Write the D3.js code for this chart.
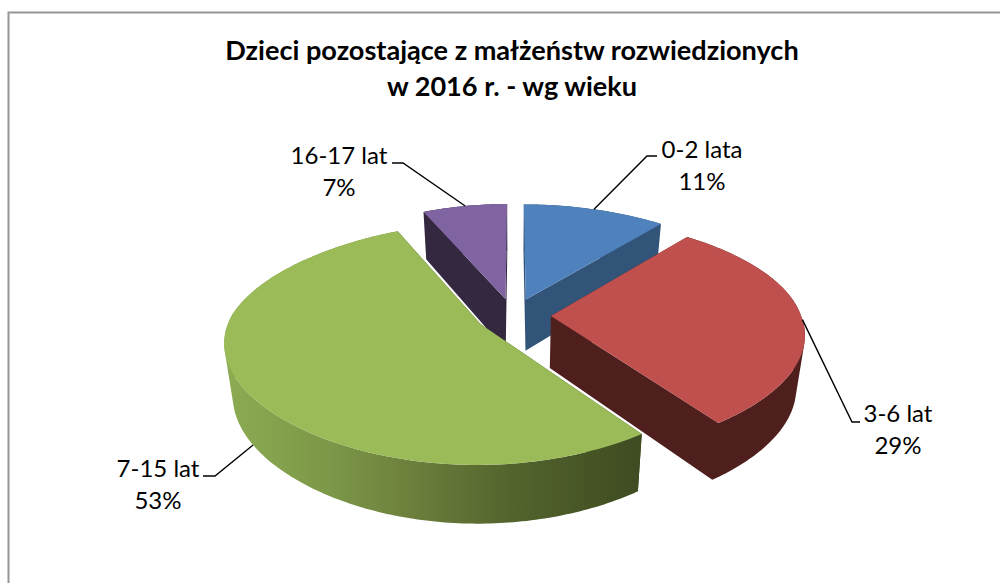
<!DOCTYPE html>
<html>
<head>
<meta charset="utf-8">
<script src="https://cdn.jsdelivr.net/npm/d3@7"></script>
<style>
  html, body { margin: 0; padding: 0; background: #fff; }
  svg { display: block; }
  text { font-family: Lato, "Open Sans", sans-serif; fill: #000; }
</style>
</head>
<body>
<div id="chart"></div>
<script>
const categories = ["0-2 lata", "3-6 lat", "7-15 lat", "16-17 lat"];
const shares = [11, 29, 53, 7];
const topColors = ["#4f81bd", "#c0504d", "#9bbb59", "#8064a2"];
const wallColors = ["#335479", "#4f1f1e", "#3f4b21", "#33283f"];
const titleLines = ["Dzieci pozostające z małżeństw rozwiedzionych", "w 2016 r. - wg wieku"];

const width = 1000;
const height = 583;

// perspective set-up of the tilted pie, fitted to the picture
const cam = { cx: 513.4, cy: 315.4, sx: 250, sy: 115, k: 0.16, pinch: 0.05, lean: 5.8, explode: 0.15, depth: 52, xShrink: 0.97, yGrow: 1.045 };

const svg = d3.select("#chart").append("svg")
    .attr("width", width)
    .attr("height", height);

// outer frame of the chart, it runs off the right and bottom of the picture
svg.append("rect")
    .attr("x", 8.5).attr("y", 12.5)
    .attr("width", 1010).attr("height", 600)
    .attr("fill", "#fff")
    .attr("stroke", "#969696")
    .attr("stroke-width", 2);

const arcs = d3.pie().sort(null).value((d) => d)(shares);

// point on the top face, angle clockwise from 12 o'clock, r = 0 is the slice apex
const topPoint = (arc, angle, r) => {
  const mid = (arc.startAngle + arc.endAngle) / 2;
  const X = cam.explode * Math.sin(mid) + r * Math.sin(angle);
  const Z = -cam.explode * Math.cos(mid) - r * Math.cos(angle);
  const w = 1 - cam.k * Z;
  return [
    cam.cx + cam.sx * X * (1 - cam.pinch * Z * Z) / w + cam.lean * Math.max(0, -Z) * Math.abs(X),
    cam.cy + cam.sy * Z / w,
  ];
};

// same point dropped to the underside of the pie
const bottomPoint = (p) => [
  cam.cx + (p[0] - cam.cx) * cam.xShrink,
  cam.cy + (p[1] - cam.cy) * cam.yGrow + cam.depth,
];

const rimAngles = (arc) => {
  const n = Math.ceil((arc.endAngle - arc.startAngle) * 60);
  return d3.range(n + 1).map((i) => arc.startAngle + (arc.endAngle - arc.startAngle) * i / n);
};

const line = d3.line();

// every shape wound the same way, so overlaps and the fold at the silhouette stay filled
const wound = (pts) => line(d3.polygonArea(pts) < 0 ? pts.slice().reverse() : pts) + "Z";

const rimWall = (rim, rimLow) => d3.range(rim.length - 1)
    .map((j) => wound([rim[j], rim[j + 1], rimLow[j + 1], rimLow[j]]))
    .join("");

const cutWall = (apex, p) => wound([apex, p, bottomPoint(p), bottomPoint(apex)]);

// green rim is shaded from left to right
const rimGradient = svg.append("defs").append("linearGradient")
    .attr("id", "green-rim")
    .attr("gradientUnits", "userSpaceOnUse")
    .attr("x1", 225).attr("x2", 640)
    .attr("y1", 0).attr("y2", 0);
[[0, "#8dab52"], [0.25, "#7c9848"], [0.45, "#6c7f3c"], [0.7, "#52632c"], [1, "#3f4b21"]].forEach((s) => {
  rimGradient.append("stop").attr("offset", s[0]).attr("stop-color", s[1]);
});

// back slices first, then the ones nearer to the viewer
const drawOrder = [3, 0, 1, 2];
const pie = svg.append("g").attr("class", "pie");

drawOrder.forEach((i) => {
  const arc = arcs[i];
  const g = pie.append("g").attr("class", "slice");
  const apex = topPoint(arc, 0, 0);
  const rim = rimAngles(arc).map((a) => topPoint(arc, a, 1));
  const rimLow = rim.map(bottomPoint);
  const walls = cutWall(apex, rim[0]) + cutWall(apex, rim[rim.length - 1]);

  if (i === 2) {
    // only the green slice has a gradient on its outer wall
    g.append("path").attr("d", walls).attr("fill", wallColors[i]);
    g.append("path").attr("d", rimWall(rim, rimLow)).attr("fill", "url(#green-rim)");
  } else {
    g.append("path").attr("d", walls + rimWall(rim, rimLow)).attr("fill", wallColors[i]);
  }

  // top face
  g.append("path")
      .attr("d", line([apex].concat(rim)) + "Z")
      .attr("fill", topColors[i]);
});

// title
svg.append("g").selectAll("text")
    .data(titleLines)
    .join("text")
    .attr("x", 512)
    .attr("y", (d, i) => 60 + i * 36)
    .attr("text-anchor", "middle")
    .attr("font-size", 27.1)
    .attr("font-weight", 700)
    .text((d) => d);

// data labels with their leader lines
const labelSpots = [
  { x: 702, y: 158, knee: [[647, 156], [657, 156]], from: (a) => topPoint(a, (a.startAngle + a.endAngle) / 2, 1) },
  { x: 898, y: 422, knee: [[852, 422], [860, 422]], from: (a) => topPoint(a, (a.startAngle + a.endAngle) / 2, 1) },
  { x: 158, y: 477, knee: [[215, 476], [203, 476]], from: (a) => bottomPoint(topPoint(a, (a.startAngle + a.endAngle) / 2, 1)) },
  { x: 339, y: 164, knee: [[403, 163], [392, 163]], from: (a) => topPoint(a, (a.startAngle + a.endAngle) / 2, 1) },
];

const labels = svg.append("g").attr("class", "labels");
labelSpots.forEach((spot, i) => {
  labels.append("path")
      .attr("d", line([spot.from(arcs[i])].concat(spot.knee)))
      .attr("fill", "none")
      .attr("stroke", "#000")
      .attr("stroke-width", 1.4);

  labels.append("text")
      .attr("x", spot.x).attr("y", spot.y)
      .attr("text-anchor", "middle")
      .attr("font-size", 24)
      .text(categories[i]);

  labels.append("text")
      .attr("x", spot.x).attr("y", spot.y + 31.5)
      .attr("text-anchor", "middle")
      .attr("font-size", 24)
      .text(shares[i] + "%");
});
</script>
</body>
</html>
